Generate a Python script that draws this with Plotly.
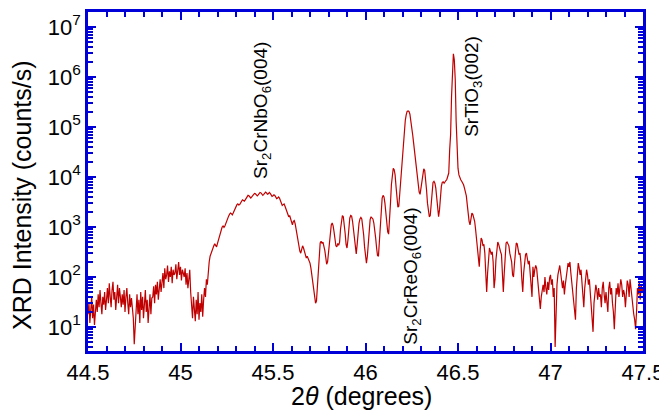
import numpy as np
import plotly.graph_objects as go

# 2-theta scan grid (instrument step 0.005 deg, 44.5 .. 47.5)
scan_start = 44.5
scan_step = 0.005

# Intensities (counts/s), in scan order
int_44_50 = [18, 30, 12, 25, 40, 15, 28, 11, 22, 35, 20, 45, 25, 55, 30, 18, 40, 28, 50, 22,
             35, 60, 30, 75, 40, 25, 55, 80, 35, 50, 22, 45, 70, 30, 60, 40, 25, 45, 28, 55,
             20, 40, 60, 30, 18, 45, 25, 38, 20, 15, 4.5, 12, 25, 45, 18, 35, 12, 50, 22, 40,
             15, 30, 55, 20, 35, 12, 28, 45, 18, 38, 40, 65, 30, 70, 45, 80, 35, 60, 90, 50,
             70, 120, 60, 150, 90, 110, 170, 80, 130, 100, 160, 75, 140, 110, 120, 180, 90, 150, 200, 110]
int_45_00 = [160, 85, 140, 120, 100, 150, 70, 120, 60, 90, 140, 50, 30, 15, 40, 20, 13, 35, 18, 50,
             14, 30, 20, 45, 16, 35, 60, 40, 90, 70, 130, 200, 260, 300, 340, 380, 420, 460, 440, 400,
             470, 560, 650, 780, 880, 1000, 1050, 980, 1050, 1200, 1350, 1500, 1650, 1800, 1900, 1850, 1750, 1900, 2150, 2400,
             2600, 2800, 2900, 2750, 2800, 3000, 3300, 3500, 3400, 3300, 3500, 3800, 4100, 4300, 4200, 3900, 3800, 4000, 4300, 4500,
             4700, 4600, 4300, 4200, 4400, 4700, 4900, 4800, 4500, 4300, 4500, 4800, 5000, 4800, 4500, 4600, 4900, 4700, 4300, 4100]
int_45_50 = [4200, 4400, 4300, 4000, 3700, 3800, 4000, 3800, 3400, 3000, 2700, 2800, 2900, 2600, 2300, 2000, 1800, 1600, 1700, 1500,
             1200, 1100, 1300, 1350, 1150, 900, 700, 500, 420, 330, 300, 360, 420, 380, 320, 260, 240, 260, 230, 210,
             190, 150, 110, 70, 50, 38, 30, 33, 70, 170, 330, 480, 520, 470, 500, 420, 340, 250, 180, 200,
             300, 550, 850, 1100, 1200, 1050, 800, 550, 420, 400, 470, 430, 500, 900, 1400, 1700, 1600, 1200, 750, 450,
             380, 550, 1000, 1500, 1700, 1650, 1300, 850, 500, 320, 290, 450, 800, 1200, 1450, 1550, 1450, 1100, 700, 400]
int_46_00 = [230, 190, 260, 550, 1000, 1400, 1600, 1550, 1450, 1200, 900, 600, 380, 270, 260, 500, 1200, 2500, 3800, 4300,
             4000, 3000, 1900, 1200, 800, 720, 1200, 3000, 7000, 12000, 15000, 14000, 11000, 6500, 3500, 2500, 2600, 4500, 9000, 18000,
             32000, 55000, 90000, 135000, 175000, 205000, 210000, 205000, 180000, 140000,
             100000, 70000, 48000, 32000, 22000, 15000, 10000, 7000, 5000, 4500,
             6000, 9000, 13000, 14500, 13500, 9500, 5500, 3000, 1900, 1600, 1700, 3200, 6000, 7800, 8200, 7500, 6000, 3500, 2000, 1600,
             2200, 4000, 6500, 7800, 8000, 7500, 7800, 8500, 9000, 10000,
             12000, 35000, 70000, 400000, 1500000, 2900000, 2200000, 900000, 130000, 30000]
int_46_50 = [15000, 11000, 9500, 8800, 8200, 7600, 7000, 6000, 5000, 4200, 2800, 1800, 1300, 1100, 1500, 1900, 1800, 1600, 1300, 900,
             600, 350, 200, 160, 350, 600, 550, 420, 450, 300, 120, 50, 120, 280, 380, 330, 280, 320, 200, 60,
             90, 220, 400, 500, 450, 350, 320, 280, 150, 50, 120, 300, 480, 500, 470, 420, 300, 250, 200, 110,
             100, 180, 350, 480, 460, 380, 280, 300, 200, 90, 50, 120, 200, 280, 300, 240, 180, 210, 120, 60,
             40, 160, 100, 140, 170, 150, 90, 55, 30, 23, 40, 60, 70, 50, 100, 60, 45, 80, 55, 95]
int_47_00 = [110, 70, 90, 40, 60, 4, 30, 70, 110, 140, 170, 120, 90, 60, 85, 45, 70, 110, 150, 190,
             160, 200, 120, 80, 60, 35, 22, 14, 60, 130, 190, 150, 110, 140, 80, 50, 25, 60, 100, 140,
             110, 70, 90, 50, 35, 15, 8, 30, 45, 70, 55, 35, 60, 40, 45, 25, 60, 80, 45, 30,
             50, 35, 20, 60, 80, 45, 60, 30, 20, 9, 35, 60, 45, 75, 40, 60, 90, 70, 40, 55,
             45, 25, 60, 85, 70, 40, 90, 55, 50, 30, 18, 14, 9, 20, 60, 45, 80, 35, 70, 50, 60]

intensity = int_44_50 + int_45_00 + int_45_50 + int_46_00 + int_46_50 + int_47_00
two_theta = np.round(scan_start + scan_step * np.arange(len(intensity)), 3)

# axis ticks
y_tick_exps = [1, 2, 3, 4, 5, 6, 7]
y_tick_text = ["10<sup>%d</sup>" % e for e in y_tick_exps]
y_tick_vals = [10 ** e for e in y_tick_exps]
y_minor_vals = [m * 10 ** e for e in range(0, 8) for m in range(2, 10)]

peak_labels = ["Sr<sub>2</sub>CrNbO<sub>6</sub>(004)",
               "Sr<sub>2</sub>CrReO<sub>6</sub>(004)",
               "SrTiO<sub>3</sub>(002)"]
peak_x = [45.44, 46.25, 46.58]
peak_y_log = [3.93, 2.02, 5.82]
peak_yanchor = ["bottom", "middle", "middle"]

x_title = "2<i>θ</i> (degrees)"
y_title = "XRD Intensity (counts/s)"

FONT = "Arial, Liberation Sans, sans-serif"
BLUE = "#0000D8"

fig = go.Figure()
fig.add_trace(go.Scatter(x=two_theta, y=intensity, mode="lines",
                         line=dict(color="#C00000", width=1.2), showlegend=False))

for lab, px, py, ya in zip(peak_labels, peak_x, peak_y_log, peak_yanchor):
    fig.add_annotation(x=px, y=py, text=lab, textangle=-90, showarrow=False,
                       xanchor="center", yanchor=ya,
                       font=dict(family=FONT, size=19, color="black"))

# axis titles as annotations for exact placement
fig.add_annotation(x=0.492, y=-0.132, xref="paper", yref="paper", text=x_title,
                   showarrow=False, xanchor="center", yanchor="middle", borderpad=0,
                   font=dict(family=FONT, size=25, color="black"))
fig.add_annotation(x=-0.119, y=0.46, xref="paper", yref="paper", text=y_title,
                   textangle=-90, showarrow=False, xanchor="center", yanchor="middle", borderpad=0,
                   font=dict(family=FONT, size=25, color="black"))

# page body has an 8px default margin, compensated in the figure margins
fig.update_layout(
    width=667, height=411,
    margin=dict(l=80, r=32, t=1, b=68),
    paper_bgcolor="white", plot_bgcolor="white",
    font=dict(family=FONT, color="black"),
)
fig.update_xaxes(
    range=[44.5, 47.5], dtick=0.5, tick0=44.5,
    showgrid=False, zeroline=False,
    showline=True, linecolor=BLUE, linewidth=2.5, mirror="allticks",
    ticks="inside", ticklen=8, tickwidth=2, tickcolor=BLUE,
    minor=dict(dtick=0.1, tick0=44.5, ticks="inside", ticklen=5, tickwidth=1.5, tickcolor=BLUE, showgrid=False),
    tickfont=dict(size=22, family=FONT, color="black"),
)
fig.update_yaxes(
    type="log", range=[0.52, 7.3],
    tickmode="array", tickvals=y_tick_vals, ticktext=y_tick_text,
    showgrid=False, zeroline=False,
    showline=True, linecolor=BLUE, linewidth=2.5, mirror="allticks",
    ticks="inside", ticklen=8, tickwidth=2, tickcolor=BLUE,
    minor=dict(tickmode="array", tickvals=y_minor_vals, ticks="inside", ticklen=5, tickwidth=1.5, tickcolor=BLUE, showgrid=False),
    tickfont=dict(size=22, family=FONT, color="black"),
)

fig.write_html("out.html")
